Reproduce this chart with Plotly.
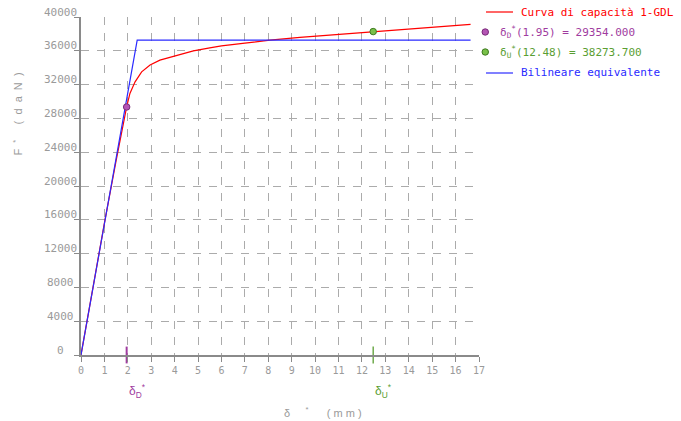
import plotly.graph_objects as go

# Capacity curve of the equivalent 1-DOF system (displacement in mm, force in daN)
cap_x = [0, 0.5, 1.0, 1.5, 1.8, 1.95, 2.09, 2.31, 2.59, 2.95, 3.37, 4.09, 4.80,
         5.5, 6.0, 7.0, 8.07, 9.35, 11.0, 12.48, 14.5, 16.64]
cap_f = [0, 7900, 15600, 23000, 27300, 29354, 30960, 32330, 33510, 34310, 34900,
         35490, 36000, 36350, 36590, 36900, 37270, 37580, 37950, 38273.7, 38700,
         39130]

# Equivalent bilinear
bil_x = [0, 2.40, 16.64]
bil_f = [0, 37270, 37270]

# Characteristic points
d_d, f_d = 1.95, 29354.000
d_u, f_u = 12.48, 38273.700

x_ticks = list(range(0, 18))
y_ticks = list(range(0, 40001, 4000))
y_tick_labels = [str(v) for v in y_ticks]

legend_labels = [
    "Curva di capacità 1-GDL",
    "δ<sub>D</sub><sup>*</sup>(%.2f) = %.3f" % (d_d, f_d),
    "δ<sub>U</sub><sup>*</sup>(%.2f) = %.3f" % (d_u, f_u),
    "Bilineare equivalente",
]

RED = "#ff0000"
BLUE = "#2a2aff"
PURPLE = "#a03ca0"
GREEN = "#5a9e32"
GRAY = "#9a9a9a"
MONO = "DejaVu Sans Mono"
SANS = "Liberation Sans"
NB = "\u00a0"

fig = go.Figure()

fig.add_trace(go.Scatter(x=cap_x, y=cap_f, mode="lines",
                         line=dict(color=RED, width=1.2), showlegend=False))
fig.add_trace(go.Scatter(x=bil_x, y=bil_f, mode="lines",
                         line=dict(color=BLUE, width=1.2), showlegend=False))
fig.add_trace(go.Scatter(x=[d_d], y=[f_d], mode="markers", showlegend=False,
                         marker=dict(size=6.5, color="#b455b4",
                                     line=dict(color="#7a2a7a", width=1))))
fig.add_trace(go.Scatter(x=[d_u], y=[f_u], mode="markers", showlegend=False,
                         marker=dict(size=6.5, color="#78c048",
                                     line=dict(color="#3f7a22", width=1))))
# Marks of the characteristic displacements on the x axis
fig.add_trace(go.Scatter(x=[d_d], y=[0], mode="markers", showlegend=False,
                         cliponaxis=False,
                         marker=dict(symbol="line-ns", size=12,
                                     line=dict(color=PURPLE, width=2))))
fig.add_trace(go.Scatter(x=[d_u], y=[0], mode="markers", showlegend=False,
                         cliponaxis=False,
                         marker=dict(symbol="line-ns", size=12,
                                     line=dict(color=GREEN, width=1.3))))

L, R, T, B = 81, 202, 17, 66
W, H = 681, 421
PW, PH = W - L - R, H - T - B


def px(xp):
    return (xp - L) / PW


def py(yp):
    return (H - B - yp) / PH


annotations = []
# y tick labels, centred in their column
for v, lab in zip(y_ticks, y_tick_labels):
    annotations.append(dict(x=px(60), xref="paper", y=v, yref="y", text=lab,
                            showarrow=False, xanchor="center", yanchor="middle",
                            yshift=5, font=dict(family=MONO, size=11, color=GRAY)))

# Axis titles
annotations.append(dict(x=px(282), xref="paper", y=py(412), yref="paper",
                        text="δ" + NB * 5 + "<sup>*</sup>" + NB * 6 + "( m m )",
                        showarrow=False, xanchor="left", yanchor="middle",
                        font=dict(family=SANS, size=11, color=GRAY)))
annotations.append(dict(x=px(17), xref="paper", y=py(158), yref="paper",
                        text="F" + NB * 2 + "<sup>*</sup>" + NB * 5 + "(  d  a  N  )",
                        textangle=-90, showarrow=False, xanchor="center",
                        yanchor="bottom",
                        font=dict(family=SANS, size=11, color=GRAY)))

# Labels of the characteristic displacements
annotations.append(dict(x=d_d, xref="x", y=py(391), yref="paper",
                        text="δ<sub>D</sub><sup>*</sup>", showarrow=False,
                        xanchor="left", yanchor="middle",
                        font=dict(family=SANS, size=12, color=PURPLE)))
annotations.append(dict(x=d_u, xref="x", y=py(391), yref="paper",
                        text="δ<sub>U</sub><sup>*</sup>", showarrow=False,
                        xanchor="left", yanchor="middle",
                        font=dict(family=SANS, size=12, color=GREEN)))

# Legend
leg_colors = [RED, PURPLE, GREEN, BLUE]
leg_rows = [12, 32, 52, 73]
leg_text_x = [519, 498, 498, 519]
shapes = []
for lab, col, yr, tx in zip(legend_labels, leg_colors, leg_rows, leg_text_x):
    annotations.append(dict(x=px(tx), xref="paper", y=py(yr), yref="paper",
                            text=lab, showarrow=False, xanchor="left",
                            yanchor="middle",
                            font=dict(family=MONO, size=11, color=col)))
for col, yr in zip([RED, BLUE], [leg_rows[0], leg_rows[3]]):
    shapes.append(dict(type="line", xref="paper", yref="paper",
                       x0=px(486), x1=px(513), y0=py(yr), y1=py(yr),
                       line=dict(color=col, width=1.2)))
for fill, edge, yr in [("#b455b4", "#7a2a7a", leg_rows[1]),
                       ("#78c048", "#3f7a22", leg_rows[2])]:
    shapes.append(dict(type="circle", xref="paper", yref="paper",
                       x0=px(482), x1=px(488.5), y0=py(yr + 3.2), y1=py(yr - 3.2),
                       fillcolor=fill, line=dict(color=edge, width=1)))

fig.update_layout(
    width=W, height=H,
    margin=dict(l=L, r=R, t=T, b=B, pad=0),
    paper_bgcolor="white", plot_bgcolor="white",
    showlegend=False,
    annotations=annotations,
    shapes=shapes,
    xaxis=dict(range=[0, 17], tickvals=x_ticks, ticktext=[str(v) for v in x_ticks],
               showgrid=True, gridcolor="#ababab", griddash="8px,8px", gridwidth=1,
               zeroline=False, showline=True, linecolor="#8a8a8a", linewidth=1.5,
               ticks="outside", ticklen=5, tickcolor="#8a8a8a",
               tickfont=dict(family=MONO, size=10, color=GRAY),
               fixedrange=True),
    yaxis=dict(range=[0, 40000], tickvals=y_ticks, showticklabels=False,
               showgrid=True, gridcolor="#ababab", griddash="8px,8px", gridwidth=1,
               zeroline=False, showline=True, linecolor="#8a8a8a", linewidth=1.5,
               ticks="outside", ticklen=5, tickcolor="#8a8a8a",
               fixedrange=True),
)

fig.write_html("out.html")
